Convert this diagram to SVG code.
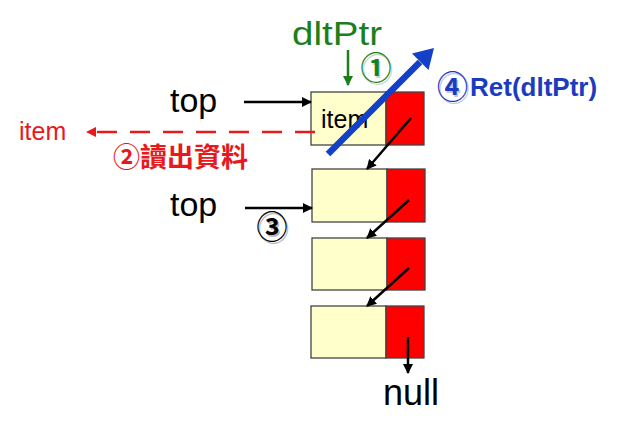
<svg xmlns="http://www.w3.org/2000/svg" width="637" height="432" viewBox="0 0 637 432">
<defs>
<marker id="ah" viewBox="0 0 10 10" refX="9" refY="5" markerWidth="4" markerHeight="4" orient="auto" markerUnits="strokeWidth"><path d="M0,0 L10,5 L0,10 z" fill="#000"/></marker>
<marker id="ahg" viewBox="0 0 10 10" refX="9" refY="5" markerWidth="4" markerHeight="4" orient="auto" markerUnits="strokeWidth"><path d="M0,0 L10,5 L0,10 z" fill="#1b7f1b"/></marker>
<marker id="ahr" viewBox="0 0 10 10" refX="9" refY="5" markerWidth="4" markerHeight="4" orient="auto" markerUnits="strokeWidth"><path d="M0,0 L10,5 L0,10 z" fill="#e8191c"/></marker>
</defs>
<style>
.data{fill:#ffffcc;stroke:#444;stroke-width:1.3}
.ptr{fill:#ff0000;stroke:#444;stroke-width:1.3}
.lbl{font-family:"Liberation Sans",Arial,sans-serif;fill:#000}
.ln{stroke:#000;stroke-width:2.5;fill:none;marker-end:url(#ah)}
.circ{font-family:"Noto Sans CJK SC","DejaVu Sans",sans-serif;text-anchor:middle;font-weight:bold}
</style>
<rect width="637" height="432" fill="#fff"/>
<g id="node1"><rect class="data" x="311" y="92" width="75" height="53"/><rect class="ptr" x="386" y="92" width="38" height="53"/><text class="lbl" x="321" y="128" font-size="25">item</text></g>
<g id="node2"><rect class="data" x="312" y="169" width="75" height="53"/><rect class="ptr" x="387" y="169" width="38" height="53"/></g>
<g id="node3"><rect class="data" x="312" y="238" width="75" height="52"/><rect class="ptr" x="387" y="238" width="38" height="52"/></g>
<g id="node4"><rect class="data" x="311" y="306" width="75" height="52"/><rect class="ptr" x="386" y="306" width="38" height="52"/></g>
<g id="labels">
<text class="lbl" x="292" y="45" font-size="33" textLength="90" lengthAdjust="spacingAndGlyphs" style="fill:#1b7f1b">dltPtr</text>
<text class="lbl" x="170" y="112" font-size="34">top</text>
<text class="lbl" x="170" y="216" font-size="34">top</text>
<text class="lbl" x="383" y="405" font-size="36">null</text>
<text class="lbl" x="19" y="140" font-size="25" style="fill:#e8191c">item</text>
<text x="113" y="167" font-size="27" font-weight="bold" fill="#e8191c" font-family="'Noto Sans CJK TC','Noto Sans CJK SC',sans-serif">②讀出資料</text>
<text x="470" y="96" font-size="26" font-weight="bold" fill="#1c3cbf" font-family="'Liberation Sans',Arial,sans-serif">Ret(dltPtr)</text>
<text class="circ" x="454" y="99.5" font-size="31" fill="#c8c8d8">④</text>
<text class="circ" x="452.5" y="98" font-size="31" fill="#1c3cbf">④</text>
<text class="circ" x="377.5" y="80.5" font-size="31" fill="#c8d8c8">①</text>
<text class="circ" x="376" y="79" font-size="31" fill="#1b7f1b">①</text>
<text class="circ" x="273.5" y="239.5" font-size="31" fill="#bbb">③</text>
<text class="circ" x="272" y="238" font-size="31" fill="#000">③</text>
</g>
<g id="connectors">
<line class="ln" x1="244" y1="102" x2="311" y2="102"/>
<line class="ln" x1="245" y1="208" x2="312" y2="208"/>
<line class="ln" x1="411" y1="118" x2="367" y2="169"/>
<line class="ln" x1="409" y1="200" x2="367" y2="238"/>
<line class="ln" x1="409" y1="268" x2="367" y2="306"/>
<line class="ln" x1="408" y1="337" x2="408" y2="373"/>
<line x1="348" y1="50" x2="348" y2="85" stroke="#1b7f1b" stroke-width="2.5" marker-end="url(#ahg)"/>
<line x1="315" y1="132" x2="87" y2="132" stroke="#e8191c" stroke-width="2.5" stroke-dasharray="20 13" marker-end="url(#ahr)"/>
<line x1="328" y1="154" x2="420" y2="62" stroke="#1240c8" stroke-width="6.5"/>
<polygon points="434,48 428.5,70 412,53.5" fill="#1240c8"/>
</g>
</svg>
